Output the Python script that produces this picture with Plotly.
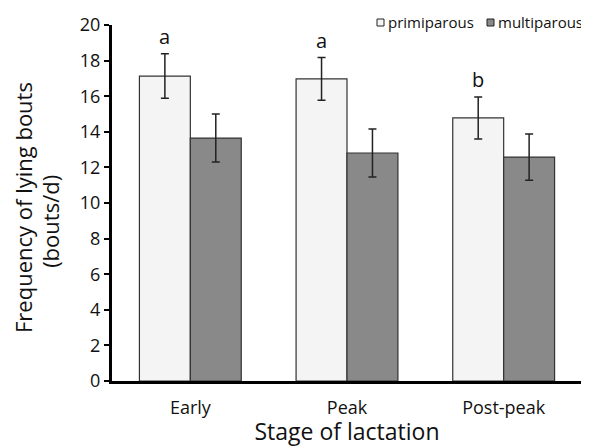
import plotly.graph_objects as go

stages = ["Early", "Peak", "Post-peak"]
primi_mean = [17.13, 16.97, 14.78]
primi_err = [1.25, 1.2, 1.18]
multi_mean = [13.65, 12.81, 12.58]
multi_err = [1.35, 1.35, 1.3]
letters = ["a", "a", "b"]
series_names = ["primiparous", "multiparous"]
series_colors = ["#f4f4f4", "#898989"]

FONT = "Open Sans"

fig = go.Figure()
fig.add_trace(go.Bar(
    x=stages, y=primi_mean, name=series_names[0],
    marker=dict(color=series_colors[0], line=dict(color="#333333", width=1.2)),
    error_y=dict(type="data", array=primi_err, color="#222222", thickness=1.5, width=4),
))
fig.add_trace(go.Bar(
    x=stages, y=multi_mean, name=series_names[1],
    marker=dict(color=series_colors[1], line=dict(color="#333333", width=1.2)),
    error_y=dict(type="data", array=multi_err, color="#222222", thickness=1.5, width=4),
))

for s, m, e, l in zip(stages, primi_mean, primi_err, letters):
    fig.add_annotation(x=s, y=m + e, text=l, showarrow=False, xref="x", yref="y",
                       xshift=-26, yshift=2, yanchor="bottom",
                       font=dict(family=FONT, size=20, color="#111111"))

# compact legend: small key squares next to the names (anchored to the plot's top-right corner)
key_x = [(-205, -198), (-95, -88)]
text_shift = [-196, -86]
for name, col, (kx0, kx1), ts in zip(series_names, series_colors, key_x, text_shift):
    fig.add_shape(type="rect", xref="paper", yref="paper", xsizemode="pixel", ysizemode="pixel",
                  xanchor=1, yanchor=1, x0=kx0, x1=kx1, y0=-1, y1=6,
                  fillcolor=col, line=dict(color="#222222", width=1))
    fig.add_annotation(xref="paper", yref="paper", x=1, y=1, xanchor="left", yanchor="middle",
                       xshift=ts, yshift=3, text=name, showarrow=False,
                       font=dict(family=FONT, size=15, color="#111111"))

# y-axis title (two lines)
fig.add_annotation(xref="paper", yref="paper", x=0, y=0.486, xshift=-89, textangle=-90,
                   text="Frequency of lying bouts", showarrow=False,
                   xanchor="center", yanchor="middle",
                   font=dict(family=FONT, size=22, color="#111111"))
fig.add_annotation(xref="paper", yref="paper", x=0, y=0.447, xshift=-62, textangle=-90,
                   text="(bouts/d)", showarrow=False,
                   xanchor="center", yanchor="middle",
                   font=dict(family=FONT, size=22, color="#111111"))

fig.update_layout(
    width=581, height=439,
    margin=dict(l=104, r=7, t=17, b=66),
    paper_bgcolor="white", plot_bgcolor="white",
    barmode="group", bargap=0.35, bargroupgap=0,
    font=dict(family=FONT, color="#111111"),
    showlegend=False,
)
fig.update_xaxes(
    showline=True, linecolor="black", linewidth=3, ticks="", showgrid=False,
    automargin=False, ticklabelstandoff=8,
    tickfont=dict(family=FONT, size=18),
    title=dict(text="Stage of lactation", font=dict(family=FONT, size=23), standoff=11),
)
fig.update_yaxes(
    range=[0, 20], dtick=2, showline=True, linecolor="black", linewidth=3,
    ticks="outside", ticklen=5, tickwidth=2, tickcolor="black", showgrid=False,
    zeroline=False, automargin=False,
    tickfont=dict(family=FONT, size=18),
)

fig.write_html("out.html")
